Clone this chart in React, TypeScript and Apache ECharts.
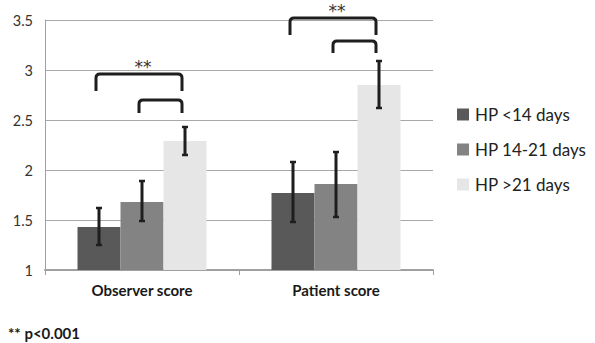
import React, { useEffect, useRef } from "react";
import * as echarts from "echarts";

const categories = ["Observer score", "Patient score"];
const seriesNames = ["HP <14 days", "HP 14-21 days", "HP >21 days"];
const seriesColors = ["#595959", "#838383", "#e6e6e6"];

// mean scores per group, one array per series (Observer, Patient)
const lt14 = [1.43, 1.77];
const d14to21 = [1.68, 1.86];
const gt21 = [2.29, 2.85];

// error bar limits [low, high] per series and category
const lt14Err = [[1.25, 1.62], [1.48, 2.08]];
const d14to21Err = [[1.49, 1.89], [1.53, 2.18]];
const gt21Err = [[2.15, 2.43], [2.62, 3.09]];

// significance brackets: [category, fromSeries, toSeries, topValue, legValue, label]
const brackets: [number, number, number, number, number, string][] = [
  [0, 0, 2, 2.96, 2.79, "**"],
  [0, 1, 2, 2.70, 2.57, ""],
  [1, 0, 2, 3.52, 3.35, "**"],
  [1, 1, 2, 3.29, 3.17, ""],
];

const yTicks = { min: 1, max: 3.5, interval: 0.5 };
const footnote = "** p<0.001";

const FONT = "Lato, 'Noto Sans', sans-serif";
const CAT_GAP = 0.335;

function barOffset(api: any, seriesIdx: number) {
  const band = api.size([1, 0])[0];
  const barW = (band * (1 - CAT_GAP)) / 3;
  return (seriesIdx - 1) * barW;
}

export default function App() {
  const ref = useRef<HTMLDivElement>(null);

  useEffect(() => {
    if (!ref.current) return;
    const chart = echarts.init(ref.current, null, { renderer: "svg" });

    const values = [lt14, d14to21, gt21];
    const errs = [lt14Err, d14to21Err, gt21Err];

    const errData: number[][] = [];
    errs.forEach((arr, s) =>
      arr.forEach(([lo, hi], c) => errData.push([c, s, lo, hi]))
    );

    chart.setOption({
      animation: false,
      grid: { left: 45, right: 162, top: 20, bottom: 73, containLabel: false },
      legend: {
        orient: "vertical",
        left: 457,
        top: 106,
        padding: 0,
        itemWidth: 12,
        itemHeight: 12,
        itemGap: 18,
        icon: "rect",
        data: seriesNames,
        textStyle: { fontFamily: FONT, fontSize: 17, lineHeight: 17, color: "#222", padding: [0, 0, 0, 1] },
      },
      xAxis: {
        type: "category",
        data: categories,
        axisLine: { lineStyle: { color: "#a0a0a0", width: 2 } },
        axisTick: { show: true, length: 5, lineStyle: { color: "#a0a0a0", width: 1 } },
        axisLabel: {
          margin: 12,
          fontFamily: FONT,
          fontSize: 15,
          fontWeight: "bold",
          color: "#1a1a1a",
        },
      },
      yAxis: {
        type: "value",
        min: yTicks.min,
        max: yTicks.max,
        interval: yTicks.interval,
        axisLine: { show: true, lineStyle: { color: "#a0a0a0", width: 1 } },
        axisTick: { show: false },
        splitLine: { lineStyle: { color: "#a8a8a8", width: 1 } },
        axisLabel: { margin: 12, fontFamily: FONT, fontSize: 14.5, color: "#333" },
      },
      graphic: [
        {
          type: "text",
          left: 8,
          top: 325,
          style: {
            text: footnote,
            fontFamily: FONT,
            fontSize: 15,
            fontWeight: "bold",
            fill: "#1a1a1a",
          },
        },
      ],
      series: [
        ...seriesNames.map((name, i) => ({
          name,
          type: "bar",
          data: values[i],
          barGap: "0%",
          barCategoryGap: "33.5%",
          itemStyle: { color: seriesColors[i] },
        })),
        {
          type: "custom",
          name: "errors",
          data: errData,
          z: 5,
          clip: false,
          renderItem: (_params: any, api: any) => {
            const c = api.value(0);
            const s = api.value(1);
            const off = barOffset(api, s);
            const lo = api.coord([c, api.value(2)]);
            const hi = api.coord([c, api.value(3)]);
            const x = lo[0] + off;
            const cap = 3;
            const style = { stroke: "#1e1e1e", lineWidth: 3, fill: "none" };
            return {
              type: "group",
              children: [
                { type: "line", shape: { x1: x, y1: lo[1], x2: x, y2: hi[1] }, style },
                { type: "line", shape: { x1: x - cap, y1: lo[1], x2: x + cap, y2: lo[1] }, style: { ...style, lineWidth: 2.5 } },
                { type: "line", shape: { x1: x - cap, y1: hi[1], x2: x + cap, y2: hi[1] }, style: { ...style, lineWidth: 2.5 } },
              ],
            };
          },
        },
        {
          type: "custom",
          name: "brackets",
          data: brackets.map((b) => [b[0], b[1], b[2], b[3], b[4]]),
          z: 6,
          clip: false,
          renderItem: (params: any, api: any) => {
            const c = api.value(0);
            const top = api.coord([c, api.value(3)]);
            const leg = api.coord([c, api.value(4)]);
            const shift = -3;
            const x1 = top[0] + barOffset(api, api.value(1)) + shift;
            const x2 = top[0] + barOffset(api, api.value(2)) + shift;
            const yT = top[1];
            const yL = leg[1];
            const r = 4;
            const d =
              `M${x1},${yL} L${x1},${yT + r} Q${x1},${yT} ${x1 + r},${yT} ` +
              `L${x2 - r},${yT} Q${x2},${yT} ${x2},${yT + r} L${x2},${yL}`;
            const children: any[] = [
              {
                type: "path",
                shape: { pathData: d },
                style: { stroke: "#1e1e1e", lineWidth: 3, fill: "none" },
              },
            ];
            const label = brackets[params.dataIndex][5];
            if (label) {
              children.push({
                type: "text",
                x: (x1 + x2) / 2 + 4,
                y: yT + 1,
                style: {
                  text: label,
                  fontFamily: "'DejaVu Sans', sans-serif",
                  fontSize: 17,
                  fill: "#333",
                  align: "center",
                  verticalAlign: "bottom",
                },
              });
            }
            return { type: "group", children };
          },
        },
      ],
    });

    return () => chart.dispose();
  }, []);

  return (
    <div
      ref={ref}
      style={{ position: "absolute", left: 0, top: 0, width: 595, height: 343 }}
    />
  );
}
